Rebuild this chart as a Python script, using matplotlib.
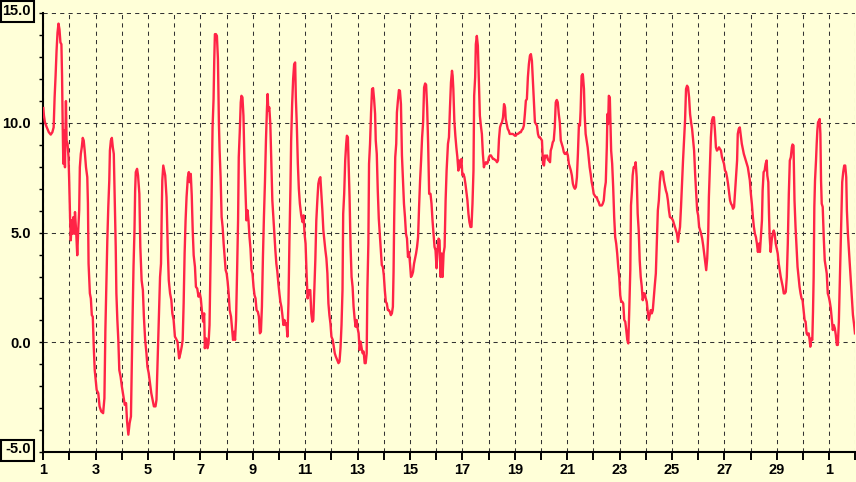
import numpy as np
import matplotlib
matplotlib.use("Agg")
import matplotlib.pyplot as plt
from matplotlib.patches import Rectangle

# hourly temperature trace as (day index, degrees)
# day index 0 = the 1st, 30 = the 1st of the next month
week_1 = [
    (0.0, 10.68), (0.025, 10.33), (0.062, 10.03), (0.123, 9.83), (0.210, 9.58), (0.284, 9.47),
    (0.346, 9.58), (0.395, 9.8), (0.432, 11.17), (0.469, 12.15), (0.506, 13.29), (0.543, 14.12),
    (0.580, 14.53), (0.617, 14.27), (0.654, 13.67), (0.691, 13.59), (0.716, 12.15), (0.741, 9.8),
    (0.765, 8.14), (0.802, 9.65), (0.827, 7.98), (0.864, 11.0), (0.889, 9.2), (0.926, 9.05),
    (0.963, 8.44), (0.988, 7.38), (1.025, 5.56), (1.049, 4.65), (1.086, 5.56), (1.111, 4.95),
    (1.148, 5.71), (1.185, 4.95), (1.210, 5.94), (1.259, 4.95), (1.296, 3.97), (1.333, 5.1),
    (1.370, 6.02), (1.395, 7.98), (1.432, 8.59), (1.469, 8.89), (1.506, 9.32), (1.543, 9.2),
    (1.580, 8.74), (1.630, 7.98), (1.679, 7.53), (1.704, 6.32), (1.728, 3.59), (1.778, 2.23),
    (1.815, 2.0), (1.852, 1.24), (1.889, 1.17), (1.926, -0.2), (1.963, -1.26), (2.037, -2.17),
    (2.099, -2.32), (2.148, -2.92), (2.210, -3.15), (2.284, -3.23), (2.333, -2.55), (2.370, 0.56),
    (2.407, 2.68), (2.444, 4.65), (2.481, 6.17), (2.519, 7.38), (2.543, 8.74), (2.580, 9.2),
    (2.617, 9.32), (2.654, 8.89), (2.691, 8.59), (2.741, 5.71), (2.765, 4.35), (2.790, 2.23),
    (2.827, 1.02), (2.864, 0.11), (2.901, -1.26), (2.951, -1.56), (3.000, -2.02), (3.062, -2.47),
    (3.111, -2.85), (3.160, -2.77), (3.198, -3.61), (3.247, -4.21), (3.296, -3.68), (3.346, -3.38),
    (3.370, -1.56), (3.407, 1.02), (3.444, 3.44), (3.481, 5.1), (3.506, 6.92), (3.531, 7.76),
    (3.580, 7.91), (3.617, 7.61), (3.667, 6.77), (3.704, 4.35), (3.753, 2.83), (3.802, 2.38),
    (3.840, 1.17), (3.889, 0.11), (3.938, -0.5), (3.975, -1.11), (4.025, -1.41), (4.074, -1.86),
    (4.123, -2.32), (4.173, -2.62), (4.222, -2.92), (4.284, -2.92), (4.321, -2.62), (4.358, -1.11),
    (4.407, 1.02), (4.457, 2.98), (4.494, 3.59), (4.519, 5.71), (4.543, 7.38), (4.580, 8.06),
    (4.617, 7.83), (4.654, 7.61), (4.704, 6.62), (4.753, 4.2), (4.790, 2.83), (4.840, 2.23),
    (4.889, 1.92), (4.926, 1.32), (4.975, 1.02), (5.025, 0.26),
]

week_2 = [
    (5.062, 0.18), (5.123, 0.03), (5.185, -0.73), (5.235, -0.5), (5.284, -0.2), (5.321, 0.11),
    (5.358, 1.77), (5.395, 4.05), (5.432, 5.56), (5.469, 6.62), (5.519, 7.53), (5.556, 7.76),
    (5.593, 7.3), (5.630, 7.68), (5.667, 6.7), (5.704, 5.1), (5.741, 3.97), (5.790, 3.44),
    (5.827, 2.53), (5.877, 2.45), (5.926, 2.08), (5.975, 2.23), (6.013, 2.0), (6.064, 1.32),
    (6.103, 0.94), (6.141, 1.32), (6.167, -0.27), (6.218, 0.18), (6.269, -0.27), (6.308, -0.05),
    (6.346, 0.79), (6.385, 3.59), (6.423, 6.47), (6.462, 9.8), (6.500, 11.09), (6.526, 12.83),
    (6.551, 14.05), (6.590, 14.05), (6.628, 13.97), (6.667, 12.91), (6.705, 9.95), (6.731, 8.74),
    (6.769, 7.53), (6.808, 5.71), (6.846, 5.26), (6.885, 4.5), (6.923, 3.89), (6.962, 3.29),
    (7.000, 3.14), (7.038, 2.76), (7.077, 2.23), (7.115, 1.47), (7.167, 1.17), (7.205, 0.64),
    (7.244, 0.11), (7.282, 0.48), (7.321, 0.11), (7.359, 1.02), (7.397, 3.14), (7.436, 5.56),
    (7.462, 8.44), (7.500, 9.58), (7.538, 10.94), (7.564, 11.24), (7.603, 11.17), (7.641, 10.33),
    (7.679, 8.29), (7.718, 6.92), (7.756, 5.56), (7.795, 6.02), (7.833, 5.56), (7.872, 4.8),
    (7.910, 4.27), (7.949, 3.29), (7.987, 3.14), (8.026, 2.53), (8.064, 2.15), (8.103, 2.0),
    (8.141, 1.47), (8.192, 1.39), (8.231, 1.17), (8.269, 0.41), (8.308, 0.48), (8.346, 1.62),
    (8.385, 3.89), (8.423, 5.71), (8.462, 7.3), (8.500, 9.2), (8.538, 10.64), (8.564, 11.32),
    (8.590, 10.56), (8.628, 10.71), (8.667, 9.95), (8.705, 8.29), (8.744, 6.47), (8.782, 5.71),
    (8.821, 4.95), (8.859, 4.2), (8.897, 3.59), (8.936, 3.21), (8.974, 2.68), (9.013, 2.23),
    (9.051, 1.85), (9.090, 1.62), (9.128, 1.24), (9.167, 0.79), (9.205, 1.02), (9.244, 0.79),
    (9.282, 0.86), (9.321, 0.26), (9.359, 1.77), (9.397, 4.65), (9.436, 7.08), (9.462, 9.2),
    (9.500, 10.86), (9.538, 12.0), (9.577, 12.68), (9.615, 12.76), (9.641, 11.17), (9.679, 9.88),
    (9.718, 8.14), (9.756, 7.0), (9.795, 6.32), (9.846, 5.79), (9.897, 5.48), (9.936, 5.79),
    (9.974, 4.95), (10.013, 4.5), (10.051, 3.14), (10.090, 2.0), (10.141, 2.38), (10.192, 2.38),
]

week_3 = [
    (10.231, 1.32), (10.269, 0.94), (10.308, 1.02), (10.346, 2.38), (10.385, 3.74), (10.423, 5.56),
    (10.462, 6.47), (10.500, 7.23), (10.538, 7.45), (10.577, 7.53), (10.615, 6.77), (10.654, 6.02),
    (10.692, 5.1), (10.731, 4.65), (10.769, 4.2), (10.808, 3.82), (10.846, 3.14), (10.885, 1.77),
    (10.923, 1.24), (10.962, 0.86), (11.000, 0.26), (11.051, 0.11), (11.090, -0.2), (11.128, -0.5),
    (11.167, -0.65), (11.218, -0.8), (11.269, -0.95), (11.308, -0.88), (11.346, -0.27), (11.385, 0.79),
    (11.423, 2.38), (11.449, 5.86), (11.487, 6.77), (11.526, 8.29), (11.564, 9.05), (11.590, 9.42),
    (11.628, 9.35), (11.654, 8.29), (11.692, 6.62), (11.731, 4.35), (11.769, 2.98), (11.808, 2.53),
    (11.846, 1.62), (11.885, 1.09), (11.923, 0.71), (11.962, 1.02), (12.000, 0.64), (12.038, 0.41),
    (12.077, -0.35), (12.115, 0.03), (12.154, -0.27), (12.192, -0.5), (12.231, -0.42), (12.269, -0.95),
    (12.308, -0.95), (12.346, -0.5), (12.372, 2.38), (12.410, 4.5), (12.436, 8.14), (12.474, 9.05),
    (12.513, 10.48), (12.551, 11.55), (12.590, 11.59), (12.628, 11.09), (12.667, 10.41), (12.692, 9.2),
    (12.731, 8.59), (12.769, 6.92), (12.808, 5.64), (12.846, 4.95), (12.885, 4.27), (12.923, 3.52),
    (12.962, 3.44), (13.000, 3.06), (13.038, 2.38), (13.077, 1.85), (13.115, 1.77), (13.154, 1.47),
    (13.192, 1.47), (13.231, 1.39), (13.269, 1.24), (13.308, 1.32), (13.346, 1.62), (13.372, 3.21),
    (13.397, 5.71), (13.436, 8.44), (13.474, 9.05), (13.500, 10.48), (13.538, 11.02), (13.577, 11.5),
    (13.615, 11.47), (13.654, 10.86), (13.692, 8.52), (13.731, 7.38), (13.769, 6.32), (13.808, 5.71),
    (13.846, 4.95), (13.885, 4.73), (13.923, 3.89), (13.962, 4.12), (14.000, 3.59), (14.038, 2.98),
    (14.077, 3.06), (14.115, 3.21), (14.154, 3.59), (14.192, 3.82), (14.231, 4.05), (14.269, 4.35),
    (14.308, 4.8), (14.346, 6.17), (14.385, 7.38), (14.423, 8.29), (14.462, 9.35), (14.500, 10.03),
    (14.538, 11.62), (14.577, 11.8), (14.615, 11.74), (14.654, 10.71), (14.692, 9.05), (14.731, 6.77),
    (14.782, 6.77), (14.821, 6.32), (14.859, 5.56), (14.897, 4.95), (14.936, 4.35), (14.974, 4.2),
    (15.013, 3.38), (15.051, 4.2), (15.090, 4.73), (15.128, 4.65), (15.167, 2.98), (15.205, 4.05),
    (15.244, 2.98), (15.282, 4.05), (15.321, 4.35), (15.359, 6.47), (15.397, 7.83),
]

week_4 = [
    (15.449, 9.05), (15.487, 9.35), (15.526, 10.71), (15.564, 11.85), (15.603, 12.38), (15.628, 12.15),
    (15.654, 11.55), (15.692, 10.11), (15.731, 9.42), (15.769, 8.89), (15.808, 8.44), (15.846, 7.83),
    (15.885, 8.29), (15.923, 7.98), (15.962, 8.36), (16.000, 7.61), (16.038, 7.68), (16.077, 7.53),
    (16.115, 7.23), (16.154, 6.85), (16.192, 6.47), (16.231, 5.86), (16.269, 5.48), (16.308, 5.26),
    (16.346, 5.26), (16.385, 6.32), (16.423, 7.83), (16.449, 11.24), (16.487, 12.08), (16.513, 13.59),
    (16.551, 13.97), (16.590, 13.52), (16.628, 11.92), (16.667, 10.33), (16.705, 9.88), (16.744, 9.5),
    (16.782, 8.59), (16.821, 7.98), (16.859, 8.14), (16.897, 8.21), (16.936, 8.14), (16.974, 8.21),
    (17.013, 8.44), (17.051, 8.52), (17.090, 8.52), (17.128, 8.44), (17.167, 8.36), (17.205, 8.36),
    (17.244, 8.32), (17.282, 8.29), (17.321, 8.21), (17.359, 8.29), (17.397, 9.27), (17.436, 9.8),
    (17.474, 9.95), (17.513, 10.03), (17.551, 10.26), (17.590, 10.86), (17.628, 10.71), (17.654, 10.18),
    (17.692, 9.95), (17.731, 9.73), (17.769, 9.65), (17.808, 9.5), (17.846, 9.5), (17.885, 9.5),
    (17.923, 9.5), (17.962, 9.47), (18.000, 9.42), (18.038, 9.42), (18.077, 9.5), (18.115, 9.5),
    (18.154, 9.53), (18.192, 9.58), (18.231, 9.58), (18.269, 9.68), (18.308, 9.73), (18.346, 9.88),
    (18.385, 10.41), (18.423, 11.02), (18.462, 11.09), (18.500, 12.08), (18.538, 12.68), (18.577, 13.06),
    (18.615, 13.14), (18.654, 12.83), (18.692, 11.92), (18.731, 11.02), (18.769, 10.03), (18.808, 9.95),
    (18.846, 9.88), (18.885, 9.5), (18.923, 9.35), (18.962, 9.35), (19.000, 9.27), (19.038, 9.2),
    (19.077, 8.14), (19.115, 8.06), (19.154, 8.52), (19.192, 8.44), (19.231, 8.52), (19.269, 8.32),
    (19.308, 8.29), (19.346, 8.21), (19.372, 8.74), (19.410, 8.89), (19.449, 9.12), (19.487, 9.2),
    (19.526, 9.8), (19.564, 10.94), (19.603, 11.05), (19.641, 10.94), (19.679, 10.41), (19.718, 10.03),
    (19.756, 9.2), (19.795, 9.05), (19.833, 8.89), (19.872, 8.67), (19.910, 8.59), (19.949, 8.59),
    (19.987, 8.67), (20.026, 8.52), (20.064, 8.14), (20.103, 7.98), (20.141, 7.83), (20.179, 7.61),
    (20.218, 7.23), (20.256, 7.08), (20.295, 7.0), (20.333, 7.08), (20.372, 7.53), (20.410, 8.59),
    (20.449, 9.95), (20.487, 9.88), (20.513, 10.56), (20.551, 12.15), (20.590, 12.23),
]

week_5 = [
    (20.603, 12.15), (20.641, 11.55), (20.667, 10.41), (20.705, 9.5), (20.744, 9.2), (20.782, 8.89),
    (20.821, 8.44), (20.859, 7.98), (20.897, 7.68), (20.936, 7.3), (20.974, 7.08), (21.013, 6.77),
    (21.051, 6.7), (21.090, 6.62), (21.128, 6.62), (21.167, 6.47), (21.205, 6.39), (21.244, 6.24),
    (21.282, 6.24), (21.321, 6.24), (21.359, 6.32), (21.397, 6.47), (21.436, 7.0), (21.474, 7.3),
    (21.513, 8.89), (21.538, 10.41), (21.564, 9.95), (21.590, 11.24), (21.628, 11.17), (21.654, 9.95),
    (21.679, 8.74), (21.718, 8.14), (21.756, 7.08), (21.795, 5.71), (21.833, 4.8), (21.872, 4.5),
    (21.910, 4.05), (21.949, 3.44), (21.987, 2.98), (22.026, 2.15), (22.064, 1.85), (22.103, 1.85),
    (22.141, 1.77), (22.179, 1.02), (22.218, 0.94), (22.256, 0.56), (22.295, 0.11), (22.333, -0.05),
    (22.372, 1.55), (22.410, 3.29), (22.436, 6.24), (22.474, 6.92), (22.500, 7.61), (22.538, 7.98),
    (22.577, 7.98), (22.615, 8.21), (22.654, 7.53), (22.692, 5.86), (22.731, 5.1), (22.769, 3.74),
    (22.808, 2.98), (22.846, 2.56), (22.885, 1.92), (22.923, 2.23), (22.962, 2.23), (23.000, 2.0),
    (23.038, 1.85), (23.077, 1.39), (23.115, 1.02), (23.154, 1.24), (23.192, 1.47), (23.231, 1.32),
    (23.269, 1.47), (23.308, 2.08), (23.346, 2.61), (23.385, 3.14), (23.423, 4.5), (23.462, 6.02),
    (23.500, 6.47), (23.538, 7.3), (23.577, 7.76), (23.615, 7.8), (23.654, 7.76), (23.692, 7.38),
    (23.731, 7.15), (23.769, 6.92), (23.808, 6.77), (23.846, 6.47), (23.885, 6.02), (23.923, 5.71),
    (23.962, 5.68), (24.000, 5.64), (24.038, 5.56), (24.077, 5.41), (24.115, 5.26), (24.154, 5.1),
    (24.192, 4.95), (24.231, 4.58), (24.269, 4.95), (24.308, 5.26), (24.346, 6.17), (24.385, 7.23),
    (24.423, 8.29), (24.462, 9.2), (24.500, 10.11), (24.538, 11.55), (24.577, 11.7), (24.615, 11.62),
    (24.654, 11.17), (24.692, 10.41), (24.731, 10.03), (24.769, 9.73), (24.808, 9.2), (24.846, 8.74),
    (24.885, 7.68), (24.923, 6.85), (24.962, 6.02), (25.000, 5.79), (25.038, 5.26), (25.077, 5.1),
    (25.115, 4.95), (25.154, 4.73), (25.192, 4.42), (25.231, 4.05), (25.269, 3.67), (25.308, 3.29),
    (25.346, 3.82), (25.385, 4.95), (25.410, 6.62), (25.449, 7.98), (25.487, 9.35), (25.526, 10.11),
    (25.564, 10.26), (25.603, 10.26), (25.641, 9.65), (25.679, 8.89), (25.718, 8.74), (25.769, 8.82),
]

week_6 = [
    (25.795, 8.89), (25.833, 8.82), (25.872, 8.74), (25.910, 8.44), (25.949, 8.29), (25.987, 8.14),
    (26.026, 7.83), (26.064, 7.76), (26.103, 7.53), (26.141, 7.23), (26.179, 6.85), (26.218, 6.47),
    (26.256, 6.32), (26.295, 6.24), (26.333, 6.09), (26.372, 6.17), (26.410, 6.85), (26.449, 7.61),
    (26.487, 8.29), (26.513, 9.5), (26.551, 9.73), (26.590, 9.8), (26.628, 9.42), (26.667, 9.05),
    (26.705, 8.82), (26.744, 8.59), (26.782, 8.44), (26.821, 8.29), (26.859, 8.14), (26.897, 7.98),
    (26.936, 7.68), (26.974, 7.38), (27.013, 6.77), (27.051, 6.32), (27.090, 5.71), (27.128, 5.26),
    (27.167, 4.95), (27.205, 4.8), (27.244, 4.5), (27.282, 4.12), (27.321, 4.5), (27.359, 4.12),
    (27.397, 4.8), (27.436, 5.56), (27.462, 6.92), (27.500, 7.76), (27.538, 7.83), (27.577, 8.14),
    (27.615, 8.29), (27.641, 7.61), (27.679, 7.3), (27.705, 5.86), (27.731, 4.8), (27.769, 4.12),
    (27.808, 4.65), (27.846, 4.95), (27.885, 5.1), (27.923, 4.95), (27.962, 4.5), (28.000, 4.27),
    (28.038, 4.05), (28.077, 3.59), (28.115, 3.29), (28.154, 2.98), (28.192, 2.76), (28.231, 2.53),
    (28.269, 2.23), (28.308, 2.23), (28.346, 2.3), (28.385, 2.98), (28.423, 4.5), (28.462, 6.77),
    (28.500, 8.29), (28.538, 8.44), (28.577, 8.89), (28.603, 9.02), (28.641, 8.97), (28.679, 6.47),
    (28.718, 5.26), (28.756, 4.35), (28.795, 3.44), (28.833, 2.98), (28.872, 2.53), (28.910, 2.23),
    (28.949, 2.0), (28.987, 1.92), (29.026, 1.47), (29.064, 1.02), (29.103, 0.94), (29.141, 0.41),
    (29.179, 0.33), (29.218, 0.41), (29.256, 0.11), (29.282, -0.2), (29.321, 0.18), (29.359, 0.11),
    (29.385, 1.39), (29.410, 2.98), (29.436, 6.17), (29.462, 7.38), (29.500, 8.29), (29.526, 9.05),
    (29.551, 9.65), (29.577, 10.03), (29.615, 10.11), (29.641, 10.18), (29.667, 9.5), (29.692, 7.38),
    (29.718, 6.32), (29.756, 6.17), (29.795, 4.8), (29.833, 3.74), (29.872, 3.44), (29.910, 3.14),
    (29.949, 2.23), (29.987, 2.08), (30.026, 1.85), (30.064, 1.55), (30.103, 1.02), (30.141, 0.56),
    (30.179, 0.79), (30.218, 0.64), (30.256, 0.33), (30.295, -0.12), (30.333, -0.12), (30.372, 0.94),
    (30.410, 2.83), (30.449, 4.95), (30.474, 5.86), (30.500, 7.3), (30.538, 7.76), (30.577, 8.06),
    (30.615, 8.06), (30.654, 7.53), (30.679, 6.02), (30.718, 4.95), (30.756, 4.2), (30.795, 3.44),
    (30.833, 2.68), (30.872, 1.92), (30.910, 1.24), (30.949, 0.86), (30.987, 0.41),
]

xtick_pos = [0, 2, 4, 6, 8, 10, 12, 14, 16, 18, 20, 22, 24, 26, 28, 30]
xtick_labels = ["1", "3", "5", "7", "9", "11", "13", "15", "17", "19",
                "21", "23", "25", "27", "29", "1"]
ytick_pos = [-5, 0, 5, 10, 15]
ytick_labels = ["", "0.0", "5.0", "10.0", ""]

BG = "#FFFFD8"
RED = "#FF2446"
GRID = "#333333"
W, H = 856, 482

plt.rcParams["font.family"] = ["Liberation Sans", "DejaVu Sans"]
plt.rcParams["font.weight"] = "bold"

pts = np.array(week_1 + week_2 + week_3 + week_4 + week_5 + week_6)
days, temps = pts[:, 0], pts[:, 1]

fig = plt.figure(figsize=(W / 100, H / 100), dpi=100, facecolor=BG)
# axes box in pixels: left spine x=43, top (15.0) y=13, bottom spine y=452, runs to right edge
ax = fig.add_axes([43.3 / W, (H - 452) / H, 812 / W, (452 - 13.3) / H])
ax.set_facecolor(BG)

ax.plot(days, temps, color=RED, lw=1.7, zorder=3)

ax.set_xlim(0, 31)
ax.set_ylim(-5, 15)

ax.set_xticks(xtick_pos)
ax.set_xticklabels(xtick_labels)
ax.set_xticks(np.arange(1, 32, 2), minor=True)
ax.set_yticks(ytick_pos)
ax.set_yticklabels(ytick_labels)
ax.set_yticks(np.arange(-5, 16, 1), minor=True)

ax.grid(axis="x", which="both", color=GRID, lw=0.75, linestyle=(0, (4, 4)))
ax.grid(axis="y", which="major", color=GRID, lw=0.75, linestyle=(0, (4, 4)))
ax.set_axisbelow(True)

for s in ["top", "right"]:
    ax.spines[s].set_visible(False)
for s in ["left", "bottom"]:
    ax.spines[s].set_linewidth(1.5)
    ax.spines[s].set_color("black")

ax.tick_params(axis="x", which="both", direction="out", length=5.8, width=1.4,
               pad=2, labelsize=10.5, colors="black")
ax.tick_params(axis="y", which="both", direction="out", length=2.9, width=1.0,
               pad=6, labelsize=10.5, colors="black")

# end labels of the y axis sit in little boxes
for label, base_y, box_top in [("15.0", 15.0, 0.0), ("-5.0", 453.3, 439.0)]:
    fig.text(30.7 / W, 1 - base_y / H, label, ha="right", va="baseline",
             fontsize=10.5, fontweight="bold", color="black")
    fig.add_artist(Rectangle((1.0 / W, 1 - (box_top + 22.3) / H), 32.7 / W, 21.3 / H,
                             transform=fig.transFigure, fill=False,
                             edgecolor="black", lw=1.5))

fig.savefig("out.png", dpi=100, facecolor=BG)
